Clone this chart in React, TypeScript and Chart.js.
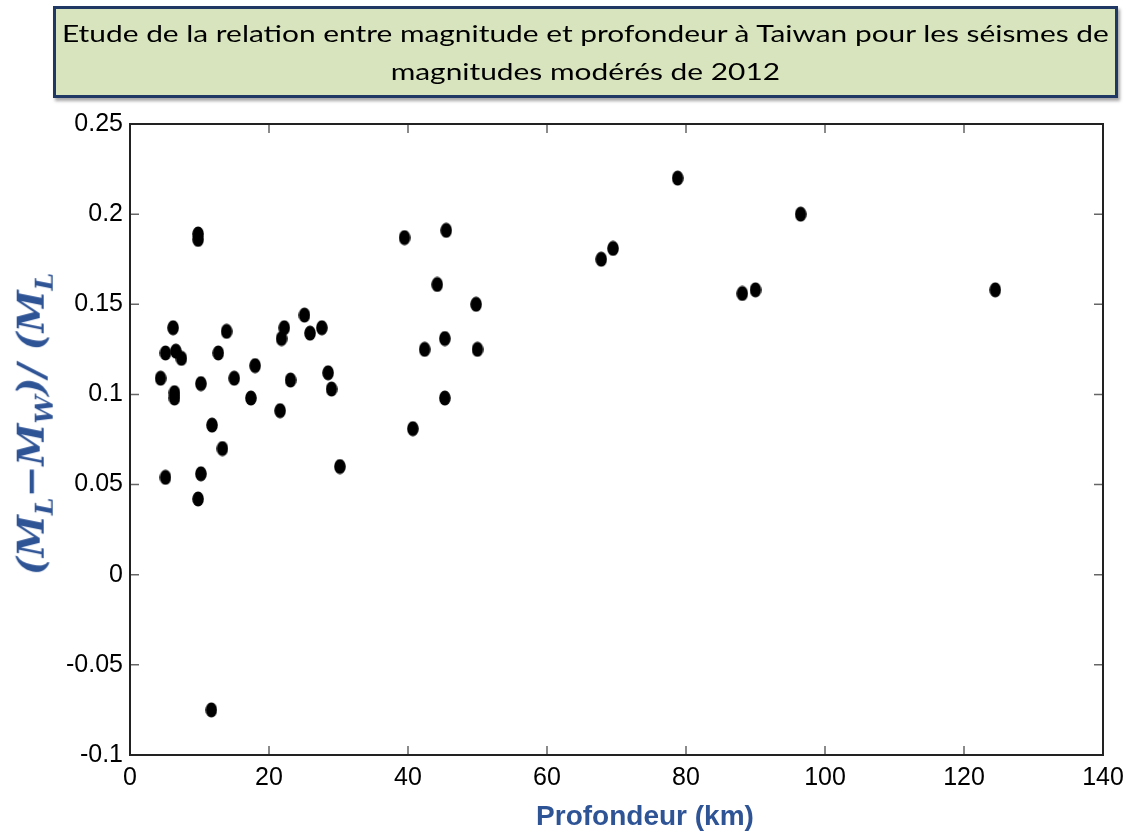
import React, { useEffect, useRef } from "react";
import { Chart, registerables } from "chart.js";

Chart.register(...registerables);

const depthKm: number[] = [
  9.8, 9.8, 39.5, 45.5, 44.2, 49.8, 45.3, 42.4, 50.0, 45.3, 40.7,
  6.2, 5.1, 6.6, 7.4, 4.4, 6.4, 6.4, 10.2, 13.9, 12.7, 15.0, 18.0, 17.4,
  11.8, 13.3, 5.1, 10.2, 9.8, 22.2, 21.8, 25.1, 25.9, 27.6, 23.1, 28.5,
  29.0, 21.6, 30.2, 11.7, 78.8, 67.8, 69.5, 88.1, 90.0, 96.5, 124.5,
];
const ratio: number[] = [
  0.189, 0.186, 0.187, 0.191, 0.161, 0.150, 0.131, 0.125, 0.125, 0.098, 0.081,
  0.137, 0.123, 0.124, 0.120, 0.109, 0.101, 0.098, 0.106, 0.135, 0.123, 0.109, 0.116, 0.098,
  0.083, 0.070, 0.054, 0.056, 0.042, 0.137, 0.131, 0.144, 0.134, 0.137, 0.108, 0.112,
  0.103, 0.091, 0.060, -0.075, 0.220, 0.175, 0.181, 0.156, 0.158, 0.200, 0.158,
];
const xTickLabels: string[] = ["0", "20", "40", "60", "80", "100", "120", "140"];
const yTickLabels: string[] = ["-0.1", "-0.05", "0", "0.05", "0.1", "0.15", "0.2", "0.25"];
const titleLines: string[] = [
  "Etude de la relation entre magnitude et profondeur à Taiwan pour les séismes de",
  "magnitudes modérés de 2012",
];
const xTitle = "Profondeur (km)";

function makeMarker(): HTMLCanvasElement {
  const c = document.createElement("canvas");
  c.width = 12;
  c.height = 16;
  const ctx = c.getContext("2d")!;
  ctx.fillStyle = "#000";
  ctx.beginPath();
  ctx.ellipse(6, 8, 5.8, 7.6, 0, 0, Math.PI * 2);
  ctx.fill();
  return c;
}

const frameTicks = {
  id: "frameTicks",
  afterDatasetsDraw(chart: any) {
    const { ctx, chartArea } = chart;
    const xs = chart.scales.x;
    const ys = chart.scales.y;
    const { left, right, top, bottom } = chartArea;
    ctx.save();
    ctx.strokeStyle = "#666";
    ctx.lineWidth = 1.5;
    const L = 9;
    xs.ticks.forEach((t: any) => {
      const px = xs.getPixelForValue(t.value);
      ctx.beginPath();
      ctx.moveTo(px, bottom);
      ctx.lineTo(px, bottom - L);
      ctx.moveTo(px, top);
      ctx.lineTo(px, top + L);
      ctx.stroke();
    });
    ys.ticks.forEach((t: any) => {
      const py = ys.getPixelForValue(t.value);
      ctx.beginPath();
      ctx.moveTo(left, py);
      ctx.lineTo(left + L, py);
      ctx.moveTo(right, py);
      ctx.lineTo(right - L, py);
      ctx.stroke();
    });
    ctx.strokeStyle = "#222";
    ctx.lineWidth = 2;
    ctx.strokeRect(left, top, right - left, bottom - top);
    ctx.restore();
  },
};

export default function App() {
  const ref = useRef<HTMLCanvasElement | null>(null);
  useEffect(() => {
    if (!ref.current) return;
    const marker = makeMarker();
    const chart = new Chart(ref.current, {
      type: "scatter",
      data: {
        datasets: [
          {
            data: depthKm.map((d, i) => ({ x: d, y: ratio[i] })),
            pointStyle: marker as any,
            pointRadius: 7,
            backgroundColor: "#000",
            borderColor: "#000",
          },
        ],
      },
      options: {
        animation: false,
        responsive: false,
        layout: { padding: { left: 0, right: 34, top: 124, bottom: 0 } },
        plugins: { legend: { display: false }, tooltip: { enabled: false } },
        scales: {
          x: {
            type: "linear",
            min: 0,
            max: 140,
            ticks: {
              stepSize: 20,
              color: "#000",
              padding: 8,
              font: { family: "'Liberation Sans', Arial, sans-serif", size: 25 },
              callback: (_v: any, i: number) => xTickLabels[i],
              maxRotation: 0,
            },
            grid: { display: false, drawTicks: false },
            border: { display: false },
            afterFit: (s: any) => {
              s.height = 77;
            },
          },
          y: {
            type: "linear",
            min: -0.1,
            max: 0.25,
            ticks: {
              stepSize: 0.05,
              color: "#000",
              padding: 7,
              font: { family: "'Liberation Sans', Arial, sans-serif", size: 25 },
              callback: (_v: any, i: number) => yTickLabels[i],
            },
            grid: { display: false, drawTicks: false },
            border: { display: false },
            afterFit: (s: any) => {
              s.width = 130;
            },
          },
        },
      },
      plugins: [frameTicks],
    });
    return () => chart.destroy();
  }, []);

  return (
    <div style={{ position: "absolute", left: 0, top: 0, width: 1137, height: 832, background: "#fff", overflow: "hidden" }}>
      <canvas ref={ref} width={1137} height={832} style={{ position: "absolute", left: 0, top: 0 }} />
      <div
        style={{
          position: "absolute",
          left: 53,
          top: 6,
          width: 1059,
          height: 86,
          background: "#d7e4bd",
          border: "3px solid #1f3864",
          boxShadow: "2px 3px 3px rgba(0,0,0,0.35)",
          display: "flex",
          flexDirection: "column",
          justifyContent: "center",
          alignItems: "center",
          fontFamily: "Lato, 'Open Sans', sans-serif",
          fontSize: 24,
          lineHeight: "38px",
          color: "#000",
          textAlign: "center",
        }}
      >
        {titleLines.map((l, i) => (
          <div key={i} style={{ whiteSpace: "nowrap", transform: "scaleX(1.245)" }}>{l}</div>
        ))}
      </div>
      <div
        style={{
          position: "absolute",
          left: 33,
          top: 424,
          transform: "translate(-50%, -50%) rotate(-90deg)",
          whiteSpace: "nowrap",
          fontFamily: "'DejaVu Serif', 'Liberation Serif', serif",
          fontStyle: "italic",
          fontWeight: "bold",
          fontSize: 38,
          color: "#2f5496",
        }}
      >
        (M<sub style={{ fontSize: 25 }}>L</sub>−M<sub style={{ fontSize: 25 }}>W</sub>)/ (M<sub style={{ fontSize: 25 }}>L</sub>
      </div>
      <div
        style={{
          position: "absolute",
          left: 645,
          top: 816,
          transform: "translate(-50%, -50%)",
          whiteSpace: "nowrap",
          fontFamily: "'Liberation Sans', Arial, sans-serif",
          fontWeight: "bold",
          fontSize: 28,
          color: "#2f5496",
        }}
      >
        {xTitle}
      </div>
    </div>
  );
}
